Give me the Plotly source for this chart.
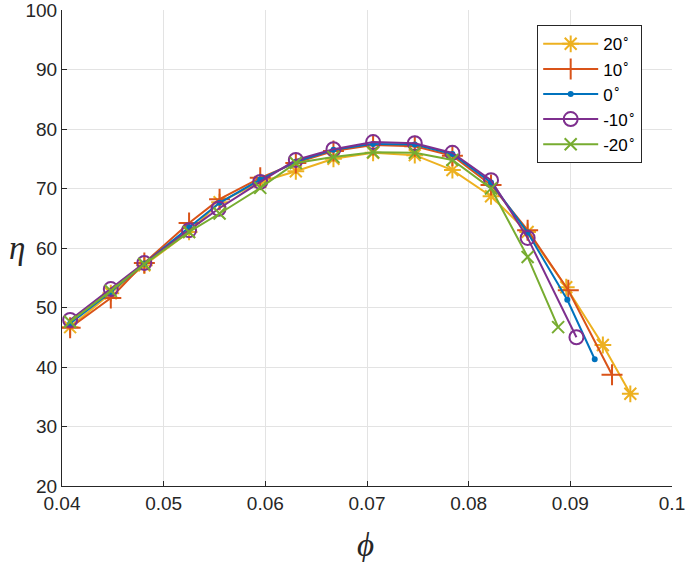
import plotly.graph_objects as go

# flow coefficient (phi) and efficiency (eta), per blade angle
phi_p20 = [0.0408, 0.0448, 0.0481, 0.0525, 0.0555, 0.0595, 0.0630, 0.0667, 0.0706, 0.0747, 0.0784, 0.0822, 0.0858, 0.0896, 0.0932, 0.0959]
eta_p20 = [46.7, 52.4, 57.1, 62.7, 67.7, 71.1, 72.9, 75.0, 76.0, 75.6, 73.1, 68.7, 62.7, 53.4, 43.7, 35.5]

phi_p10 = [0.0408, 0.0448, 0.0481, 0.0525, 0.0555, 0.0595, 0.0630, 0.0667, 0.0706, 0.0747, 0.0784, 0.0822, 0.0858, 0.0898, 0.0941]
eta_p10 = [46.6, 51.6, 57.5, 64.2, 68.2, 71.8, 74.3, 76.3, 77.3, 77.1, 75.5, 70.6, 63.0, 52.9, 38.7]

phi_0 = [0.0408, 0.0448, 0.0481, 0.0525, 0.0555, 0.0595, 0.0630, 0.0667, 0.0706, 0.0747, 0.0784, 0.0822, 0.0858, 0.0897, 0.0924]
eta_0 = [47.3, 52.6, 57.4, 63.5, 67.6, 71.5, 74.5, 76.5, 77.5, 77.4, 75.8, 71.0, 62.6, 51.3, 41.3]

phi_m10 = [0.0408, 0.0448, 0.0481, 0.0525, 0.0554, 0.0595, 0.0630, 0.0667, 0.0706, 0.0747, 0.0784, 0.0822, 0.0858, 0.0906]
eta_m10 = [47.9, 53.1, 57.5, 63.0, 66.6, 71.1, 74.8, 76.6, 77.8, 77.6, 76.0, 71.4, 61.7, 45.0]

phi_m20 = [0.0408, 0.0448, 0.0481, 0.0525, 0.0555, 0.0595, 0.0630, 0.0667, 0.0706, 0.0747, 0.0784, 0.0822, 0.0858, 0.0888]
eta_m20 = [47.6, 52.8, 57.3, 62.7, 65.8, 70.1, 74.3, 75.3, 76.1, 76.0, 74.8, 70.0, 58.5, 46.7]

labels = ["20<sup>∘</sup>", "10<sup>∘</sup>", "0<sup>∘</sup>", "-10<sup>∘</sup>", "-20<sup>∘</sup>"]
x_ticks = [0.04, 0.05, 0.06, 0.07, 0.08, 0.09, 0.1]
x_tick_text = ["0.04", "0.05", "0.06", "0.07", "0.08", "0.09", "0.1"]
y_ticks = [20, 30, 40, 50, 60, 70, 80, 90, 100]

series = [
    (phi_p20, eta_p20, "#EDB120", "asterisk-open", 14),
    (phi_p10, eta_p10, "#D95319", "cross-thin-open", 15),
    (phi_0, eta_0, "#0072BD", "circle", 4),
    (phi_m10, eta_m10, "#7E2F8E", "circle-open", 14),
    (phi_m20, eta_m20, "#77AC30", "x-thin-open", 12),
]

fig = go.Figure()
for (x, y, col, sym, size), name in zip(series, labels):
    fig.add_trace(go.Scatter(
        x=x, y=y, name=name, mode="lines+markers",
        line=dict(color=col, width=2),
        marker=dict(symbol=sym, size=size, color=col, line=dict(color=col, width=2)),
    ))

axis_font = dict(family="Liberation Sans, Arial", size=19, color="#262626")
title_font = dict(family="Liberation Serif", size=33, color="#262626")
fig.update_layout(
    width=686, height=562,
    margin=dict(l=62, r=14, t=10, b=76),
    plot_bgcolor="white", paper_bgcolor="white",
    font=axis_font,
    legend=dict(
        x=0.779, y=0.968, xanchor="left", yanchor="top",
        bgcolor="white", bordercolor="#262626", borderwidth=1,
        font=dict(family="Liberation Sans, Arial", size=17, color="#000000"),
        itemwidth=55, tracegroupgap=0,
    ),
)
# axis labels as annotations so they sit where the reference has them
fig.add_annotation(text="<i>η</i>", xref="paper", yref="paper", x=-0.073, y=0.5,
                   showarrow=False, font=title_font, xanchor="center", yanchor="middle")
fig.add_annotation(text="<i>ϕ</i>", xref="paper", yref="paper", x=0.497, y=-0.124,
                   showarrow=False, font=title_font, xanchor="center", yanchor="middle")

fig.update_xaxes(
    range=[0.04, 0.1], tickvals=x_ticks, ticktext=x_tick_text,
    automargin=False, ticklabeloverflow="allow",
    showgrid=True, gridcolor="#e3e3e3", gridwidth=1, zeroline=False,
    showline=True, linecolor="#262626", linewidth=1,
    ticks="inside", ticklen=5, tickcolor="#262626",
)
fig.update_yaxes(
    range=[20, 100], tickvals=y_ticks,
    automargin=False, ticklabeloverflow="allow",
    showgrid=True, gridcolor="#e3e3e3", gridwidth=1, zeroline=False,
    showline=True, linecolor="#262626", linewidth=1,
    ticks="inside", ticklen=5, tickcolor="#262626",
)

# drop the default 8px body margin so the figure fills the window exactly
fig.write_html("out.html", config={"displayModeBar": False},
               post_script="document.body.style.margin='0';")
